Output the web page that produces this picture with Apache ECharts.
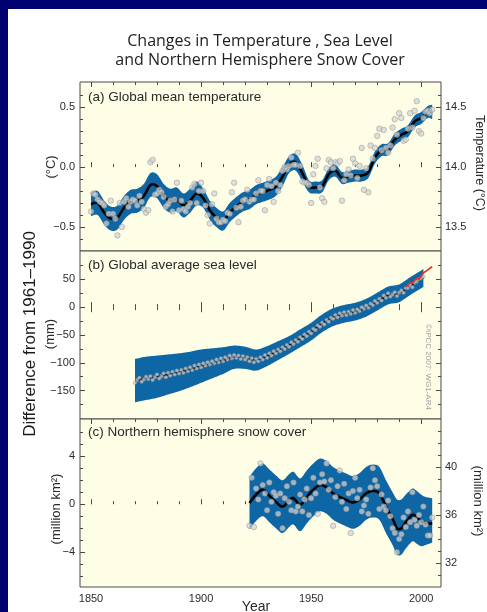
<!DOCTYPE html>
<html><head><meta charset="utf-8">
<script src="https://cdn.jsdelivr.net/npm/echarts@6/dist/echarts.min.js"></script>
<style>
html,body{margin:0;padding:0;background:#000070;width:487px;height:612px;overflow:hidden}
#paper{position:absolute;left:8px;top:9px;width:479px;height:603px;background:#fff}
#chart{position:absolute;left:0;top:0;width:487px;height:612px}
</style></head><body><div id="paper"></div><div id="chart"></div>
<script>
// ---------- tick / label arrays ----------
const yearLabels = [1850, 1900, 1950, 2000];
const yearTicks = [1850, 1860, 1870, 1880, 1890, 1900, 1910, 1920, 1930, 1940, 1950, 1960, 1970, 1980, 1990, 2000];
const tempLabelsLeft = [-0.5, 0, 0.5];
const tempTicksLeft = [-0.6, -0.5, -0.4, -0.3, -0.2, -0.1, 0, 0.1, 0.2, 0.3, 0.4, 0.5, 0.6];
const tempLabelsRight = [13.5, 14.0, 14.5];
const tempTicksRight = [13.4, 13.5, 13.6, 13.7, 13.8, 13.9, 14.0, 14.1, 14.2, 14.3, 14.4, 14.5, 14.6];
const seaLabels = [-150, -100, -50, 0, 50];
const seaTicks = [-175, -150, -125, -100, -75, -50, -25, 0, 25, 50, 75];
const snowLabelsLeft = [-4, 0, 4];
const snowTicksLeft = [-6, -5, -4, -3, -2, -1, 0, 1, 2, 3, 4, 5, 6];
const snowLabelsRight = [32, 36, 40];
const snowTicksRight = [31, 32, 33, 34, 35, 36, 37, 38, 39, 40, 41, 42, 43];

// ---------- (a) global mean temperature, anomaly °C ----------
const tempStartYear = 1850;
const tempAnnual = [
 -0.37,-0.22,-0.23,-0.27,-0.29,-0.30,-0.32,-0.47,-0.39,-0.28,
 -0.39,-0.43,-0.57,-0.30,-0.50,-0.29,-0.26,-0.33,-0.29,-0.27,
 -0.28,-0.32,-0.24,-0.29,-0.35,-0.38,-0.36,0.04,0.06,-0.23,
 -0.22,-0.19,-0.21,-0.25,-0.33,-0.31,-0.28,-0.37,-0.27,-0.13,
 -0.36,-0.28,-0.35,-0.37,-0.33,-0.30,-0.17,-0.14,-0.30,-0.20,
 -0.13,-0.20,-0.32,-0.40,-0.47,-0.31,-0.22,-0.43,-0.46,-0.46,
 -0.44,-0.45,-0.38,-0.39,-0.21,-0.13,-0.34,-0.46,-0.33,-0.28,
 -0.27,-0.19,-0.29,-0.27,-0.27,-0.22,-0.11,-0.20,-0.20,-0.36,
 -0.15,-0.10,-0.16,-0.29,-0.13,-0.20,-0.15,-0.03,0.00,-0.02,
 0.01,0.08,0.02,0.02,0.12,0.01,-0.12,-0.13,-0.13,-0.15,
 -0.30,-0.06,0.01,0.07,-0.17,-0.26,-0.29,-0.01,0.06,0.04,
 -0.01,0.04,0.03,0.05,-0.28,-0.11,-0.06,-0.02,-0.07,0.07,
 0.03,-0.09,0.01,0.16,-0.19,-0.01,-0.21,0.18,0.07,0.16,
 0.26,0.32,0.14,0.31,0.16,0.12,0.18,0.33,0.40,0.27,
 0.45,0.41,0.22,0.23,0.32,0.45,0.33,0.47,0.55,0.30,
 0.28,0.41,0.46,0.47,0.45,0.48
];
const tempSmoothYears = [1850,1853,1856,1859,1862,1865,1868,1871,1874,1877,1880,1883,1886,1889,1892,1895,1898,1901,1904,1907,1910,1913,1916,1919,1922,1925,1928,1931,1934,1937,1940,1943,1946,1949,1952,1955,1958,1961,1964,1967,1970,1973,1976,1979,1982,1985,1988,1991,1994,1997,2000,2003,2005];
const tempSmooth = [-0.31,-0.30,-0.38,-0.43,-0.42,-0.34,-0.29,-0.28,-0.24,-0.15,-0.16,-0.24,-0.28,-0.27,-0.32,-0.28,-0.22,-0.26,-0.36,-0.42,-0.45,-0.38,-0.33,-0.29,-0.27,-0.23,-0.21,-0.19,-0.16,-0.08,0.02,0.04,-0.05,-0.16,-0.17,-0.16,-0.06,-0.03,-0.09,-0.08,-0.07,-0.07,-0.04,0.08,0.14,0.15,0.23,0.27,0.30,0.38,0.41,0.46,0.46];
const tempUpper = [-0.21,-0.20,-0.28,-0.33,-0.32,-0.24,-0.19,-0.18,-0.14,-0.05,-0.06,-0.14,-0.18,-0.17,-0.22,-0.18,-0.12,-0.18,-0.28,-0.34,-0.37,-0.30,-0.25,-0.21,-0.19,-0.15,-0.13,-0.11,-0.08,0.00,0.09,0.11,0.02,-0.11,-0.12,-0.11,-0.01,0.02,-0.04,-0.03,-0.02,-0.02,0.01,0.13,0.19,0.20,0.28,0.32,0.35,0.43,0.46,0.51,0.52];
const tempLower = [-0.41,-0.40,-0.48,-0.53,-0.52,-0.44,-0.39,-0.38,-0.34,-0.25,-0.26,-0.34,-0.38,-0.37,-0.42,-0.38,-0.32,-0.34,-0.44,-0.50,-0.53,-0.46,-0.41,-0.37,-0.35,-0.31,-0.29,-0.27,-0.24,-0.16,-0.05,-0.03,-0.12,-0.21,-0.22,-0.21,-0.11,-0.08,-0.14,-0.13,-0.12,-0.12,-0.09,0.03,0.09,0.10,0.18,0.22,0.25,0.33,0.36,0.41,0.40];

// ---------- (b) global average sea level, mm ----------
const seaStartYear = 1870;
const seaAnnual = [
 -136,-131,-127,-134,-130,-125,-129,-124,-131,-126,
 -121,-128,-124,-119,-126,-118,-123,-116,-121,-114,
 -119,-113,-118,-110,-115,-108,-113,-105,-110,-103,
 -108,-101,-105,-99,-103,-97,-101,-94,-99,-92,
 -97,-90,-94,-87,-92,-86,-91,-87,-93,-88,
 -94,-90,-97,-92,-99,-93,-97,-90,-94,-86,
 -91,-83,-87,-79,-83,-76,-79,-72,-75,-68,
 -71,-63,-66,-59,-62,-54,-57,-49,-52,-44,
 -47,-39,-41,-33,-35,-28,-31,-23,-26,-19,
 -21,-14,-18,-11,-15,-9,-14,-8,-12,-5,
 -10,-4,-7,0,-3,3,-1,6,4,11,
 8,15,12,21,17,25,19,23,27,20,
 26,30,26,34,35,40,36,44,46,50,
 52,55
];
const seaSmoothYears = [1870,1875,1880,1885,1890,1895,1900,1905,1910,1915,1920,1925,1930,1935,1940,1945,1950,1955,1960,1965,1970,1975,1980,1985,1990,1995,2000,2001];
const seaSmooth = [-132,-128,-125,-121,-117,-112,-106,-101,-96,-90,-91,-95,-88,-78,-68,-56,-44,-29,-18,-12,-8,-1,10,21,25,38,50,53];
const seaUpper = [-93,-89,-87,-85,-83,-80,-76,-74,-72,-69,-71,-76,-70,-61,-52,-40,-28,-13,-2,4,8,15,26,37,41,54,66,69];
const seaLower = [-171,-167,-163,-157,-151,-144,-136,-128,-120,-111,-111,-114,-106,-95,-84,-72,-60,-45,-34,-28,-24,-17,-6,5,9,22,34,37];
const satYears = [1993,1994,1995,1996,1997,1998,1999,2000,2001,2002,2003,2004,2005];
const satLevel = [36,40,44,43,48,52,50,56,62,64,67,70,73];

// ---------- (c) northern hemisphere snow cover, million km² ----------
const snowStartYear = 1922;
const snowAnnual = [
 -1.8,2.2,-1.9,1.3,0.4,3.4,1.6,0.9,
 -0.5,1.8,0.2,1.0,0.7,-0.8,0.9,-2.0,0.5,1.5,
 0.2,-0.5,1.8,-0.6,-0.2,0.8,-0.6,0.4,1.3,-0.9,
 0.5,2.2,0.9,-0.8,1.8,2.5,1.9,3.4,1.2,2.0,
 -1.8,0.6,1.5,2.8,0.2,1.7,-0.4,0.9,-2.4,1.1,
 2.2,0.5,1.2,-0.6,-0.1,0.4,-0.8,1.4,3.0,2.0,
 1.5,-0.4,0.8,-0.2,-0.5,0.3,-1.0,-2.0,-2.4,-4.0,
 -2.9,-2.5,-1.1,-1.9,-0.6,-1.5,1.0,-1.3,-1.8,-0.9,
 -1.5,-0.2,-1.7,-2.6,-2.6,-1.1
];
const snowSmoothYears = [1922,1925,1928,1931,1934,1937,1940,1942,1945,1948,1951,1954,1957,1960,1963,1966,1969,1972,1975,1978,1981,1984,1987,1989,1991,1993,1996,1998,2000,2002,2005];
const snowSmooth = [0.1,0.8,1.2,0.7,0.2,-0.2,0.3,0.5,-0.05,0.6,1.2,1.6,1.4,0.9,0.6,0.35,0.15,0.4,0.9,1.1,0.9,-0.2,-1.2,-2.0,-2.0,-1.5,-0.9,-1.1,-1.4,-1.6,-1.6];
const snowUpper = [2.3,3.0,3.4,2.9,2.4,2.0,2.5,2.7,2.15,2.8,3.4,3.8,3.6,3.1,2.8,2.55,2.35,2.6,3.1,3.3,3.1,2.0,1.0,0.4,0.4,0.8,1.3,1.1,0.8,0.6,0.5];
const snowLower = [-2.1,-1.4,-1.0,-1.5,-2.0,-2.4,-1.9,-1.7,-2.25,-1.6,-1.0,-0.6,-0.8,-1.3,-1.6,-1.85,-2.05,-1.8,-1.3,-1.1,-1.3,-2.4,-3.4,-4.2,-4.2,-3.7,-3.1,-3.3,-3.5,-3.4,-3.2];

// ---------- styling ----------
const BAND = '#0f66a4';
const CREAM = '#fefde6';
const FRAME = '#4a4a4a';
const FONT = '"Liberation Sans", Arial, sans-serif';
const TXT = '#2a2a2a';

const pairs = (start, vals) => vals.map((v, i) => [start + i, v]);
const zip = (xs, ys) => xs.map((x, i) => [x, ys[i]]);
const minus = (v, d) => (v < 0 ? '\u2212' : '') + Math.abs(v).toFixed(d);

const panels = [
  {top: 82, height: 169, lmin: -0.7, lmax: 0.71, rmin: 13.3, rmax: 14.71,
   lLab: tempLabelsLeft, lTick: tempTicksLeft, rLab: tempLabelsRight, rTick: tempTicksRight,
   lFmt: v => minus(v, 1), rFmt: v => v.toFixed(1), rLabels: true},
  {top: 251, height: 168, lmin: -201, lmax: 101, rmin: -201, rmax: 101,
   lLab: seaLabels, lTick: seaTicks, rLab: seaLabels, rTick: seaTicks,
   lFmt: v => minus(v, 0), rFmt: v => '', rLabels: false},
  {top: 419, height: 168, lmin: -6.9, lmax: 7.1, rmin: 30, rmax: 44,
   lLab: snowLabelsLeft, lTick: snowTicksLeft, rLab: snowLabelsRight, rTick: snowTicksRight,
   lFmt: v => minus(v, 0), rFmt: v => String(v), rLabels: true}
];

const grids = [], xAxes = [], yAxes = [];
const lblStyle = {fontFamily: FONT, fontSize: 11, color: TXT};
panels.forEach((p, k) => {
  grids.push({left: 80, width: 361, top: p.top, height: p.height, show: true,
    backgroundColor: CREAM, borderColor: FRAME, borderWidth: 1});
  grids.push({left: 80, width: 361, top: p.top, height: p.height, show: false});
  const g1 = 2 * k, g2 = 2 * k + 1;
  const xb = {type: 'value', min: 1845, max: 2009, splitLine: {show: false}, axisLine: {show: false}};
  xAxes.push(Object.assign({}, xb, {gridIndex: g1, position: 'bottom',
    axisTick: {show: true, inside: true, length: 5, customValues: yearLabels, lineStyle: {color: FRAME}},
    axisLabel: k === 2 ? Object.assign({show: true, customValues: yearLabels, margin: 6, formatter: v => String(v)}, lblStyle) : {show: false}}));
  xAxes.push(Object.assign({}, xb, {gridIndex: g1, position: 'top',
    axisTick: {show: true, inside: true, length: 5, customValues: yearLabels, lineStyle: {color: FRAME}},
    axisLabel: {show: false}}));
  xAxes.push(Object.assign({}, xb, {gridIndex: g2, position: 'bottom',
    axisTick: {show: true, inside: true, length: 3, customValues: yearTicks, lineStyle: {color: FRAME}},
    axisLabel: {show: false}}));
  xAxes.push(Object.assign({}, xb, {gridIndex: g2, position: 'top',
    axisTick: {show: true, inside: true, length: 3, customValues: yearTicks, lineStyle: {color: FRAME}},
    axisLabel: {show: false}}));
  const yb = {type: 'value', splitLine: {show: false}, axisLine: {show: false}};
  yAxes.push(Object.assign({}, yb, {gridIndex: g1, position: 'left', min: p.lmin, max: p.lmax,
    axisTick: {show: true, inside: true, length: 5, customValues: p.lLab, lineStyle: {color: FRAME}},
    axisLabel: Object.assign({show: true, customValues: p.lLab, margin: 5, formatter: p.lFmt}, lblStyle)}));
  yAxes.push(Object.assign({}, yb, {gridIndex: g1, position: 'right', min: p.rmin, max: p.rmax,
    axisTick: {show: true, inside: true, length: 5, customValues: p.rLab, lineStyle: {color: FRAME}},
    axisLabel: p.rLabels ? Object.assign({show: true, customValues: p.rLab, margin: 4, formatter: p.rFmt}, lblStyle) : {show: false}}));
  yAxes.push(Object.assign({}, yb, {gridIndex: g2, position: 'left', min: p.lmin, max: p.lmax,
    axisTick: {show: true, inside: true, length: 3, customValues: p.lTick, lineStyle: {color: FRAME}},
    axisLabel: {show: false}}));
  yAxes.push(Object.assign({}, yb, {gridIndex: g2, position: 'right', min: p.rmin, max: p.rmax,
    axisTick: {show: true, inside: true, length: 3, customValues: p.rTick, lineStyle: {color: FRAME}},
    axisLabel: {show: false}}));
});

// Catmull-Rom rendering of a curve through pixel points (drawing only)
function spline(pts) {
  const out = [];
  const n = pts.length;
  for (let i = 0; i < n - 1; i++) {
    const p0 = pts[Math.max(i - 1, 0)], p1 = pts[i], p2 = pts[i + 1], p3 = pts[Math.min(i + 2, n - 1)];
    const steps = 10;
    for (let s = 0; s < steps; s++) {
      const t = s / steps, t2 = t * t, t3 = t2 * t;
      const f = (a, b, c, d) => 0.5 * ((2 * b) + (-a + c) * t + (2 * a - 5 * b + 4 * c - d) * t2 + (-a + 3 * b - 3 * c + d) * t3);
      out.push([f(p0[0], p1[0], p2[0], p3[0]), f(p0[1], p1[1], p2[1], p3[1])]);
    }
  }
  out.push(pts[n - 1]);
  return out;
}

function bandSeries(k, years, upper, lower) {
  return {
    type: 'custom', xAxisIndex: 4 * k, yAxisIndex: 4 * k, silent: true, z: 1, clip: true,
    data: [[years[0], lower[0]]],
    renderItem: (params, api) => {
      const up = [], lo = [];
      for (let i = 0; i < years.length; i++) {
        up.push(api.coord([years[i], upper[i]]));
        lo.push(api.coord([years[i], lower[i]]));
      }
      const pts = spline(up).concat(spline(lo).reverse());
      return {type: 'polygon', shape: {points: pts}, style: {fill: BAND}};
    }
  };
}
function curveSeries(k, years, vals, color, width, z) {
  return {
    type: 'custom', xAxisIndex: 4 * k, yAxisIndex: 4 * k, silent: true, z: z, clip: true,
    data: [[years[0], vals[0]]],
    renderItem: (params, api) => {
      const pts = years.map((y, i) => api.coord([y, vals[i]]));
      return {type: 'polyline', shape: {points: spline(pts)}, style: {stroke: color, lineWidth: width, fill: null, lineJoin: 'round'}};
    }
  };
}
function lineSeries(k, data, color, width, z) {
  return {type: 'line', xAxisIndex: 4 * k, yAxisIndex: 4 * k, data: data, smooth: false,
    symbol: 'none', silent: true, z: z, lineStyle: {color: color, width: width}};
}
function dotSeries(k, data, size) {
  return {type: 'scatter', xAxisIndex: 4 * k, yAxisIndex: 4 * k, data: data, symbolSize: size, silent: true, z: 4,
    itemStyle: {color: 'rgba(212,212,212,0.9)', borderColor: '#8c8c8c', borderWidth: 0.6}};
}

const series = [
  bandSeries(0, tempSmoothYears, tempUpper, tempLower),
  curveSeries(0, tempSmoothYears, tempSmooth, '#000', 2.6, 3),
  dotSeries(0, pairs(tempStartYear, tempAnnual), 5.5),
  bandSeries(1, seaSmoothYears, seaUpper, seaLower),
  curveSeries(1, seaSmoothYears, seaSmooth, '#000', 1.6, 3),
  dotSeries(1, pairs(seaStartYear, seaAnnual), 3.5),
  lineSeries(1, zip(satYears, satLevel), '#e0312b', 1.6, 5),
  bandSeries(2, snowSmoothYears, snowUpper, snowLower),
  curveSeries(2, snowSmoothYears, snowSmooth, '#000', 2.6, 3),
  dotSeries(2, pairs(snowStartYear, snowAnnual), 5.5)
];

const T = (text, x, y, opt) => Object.assign({type: 'text', x: x, y: y, z: 100,
  style: Object.assign({text: text, fill: TXT, font: '12px ' + FONT, textAlign: 'center', textVerticalAlign: 'middle'}, opt && opt.style || {})},
  opt && opt.rotation !== undefined ? {rotation: opt.rotation} : {});

const graphics = [
  T('Changes in Temperature , Sea Level', 260, 41, {style: {font: '16px "Open Sans", sans-serif', fill: '#222'}}),
  T('and Northern Hemisphere Snow Cover', 260, 60, {style: {font: '16px "Open Sans", sans-serif', fill: '#222'}}),
  T('Difference from 1961\u20131990', 30, 334, {rotation: Math.PI / 2, style: {font: '17px ' + FONT, fill: '#1a1a1a'}}),
  T('(\u00b0C)', 51, 167, {rotation: Math.PI / 2, style: {font: '13px ' + FONT}}),
  T('(mm)', 50, 334, {rotation: Math.PI / 2, style: {font: '13px ' + FONT}}),
  T('(million km\u00b2)', 56, 509, {rotation: Math.PI / 2, style: {font: '13px ' + FONT}}),
  T('Temperature (\u00b0C)', 479, 163, {rotation: -Math.PI / 2, style: {font: '12.5px ' + FONT}}),
  T('(million km\u00b2)', 478, 501, {rotation: -Math.PI / 2, style: {font: '13px ' + FONT}}),
  T('\u00a9IPCC 2007: WG1-AR4', 428, 367, {rotation: -Math.PI / 2, style: {font: '8px ' + FONT, fill: '#a0a0a0'}}),
  T('(a) Global mean temperature', 88, 97, {style: {font: '13.5px ' + FONT, textAlign: 'left'}}),
  T('(b) Global average sea level', 88, 265, {style: {font: '13.5px ' + FONT, textAlign: 'left'}}),
  T('(c) Northern hemisphere snow cover', 88, 432, {style: {font: '13.5px ' + FONT, textAlign: 'left'}}),
  T('Year', 256, 607, {style: {font: '14px ' + FONT}})
];

const chart = echarts.init(document.getElementById('chart'), null, {renderer: 'canvas'});
chart.setOption({
  animation: false,
  backgroundColor: 'transparent',
  grid: grids, xAxis: xAxes, yAxis: yAxes, series: series, graphic: graphics
});
</script></body></html>
